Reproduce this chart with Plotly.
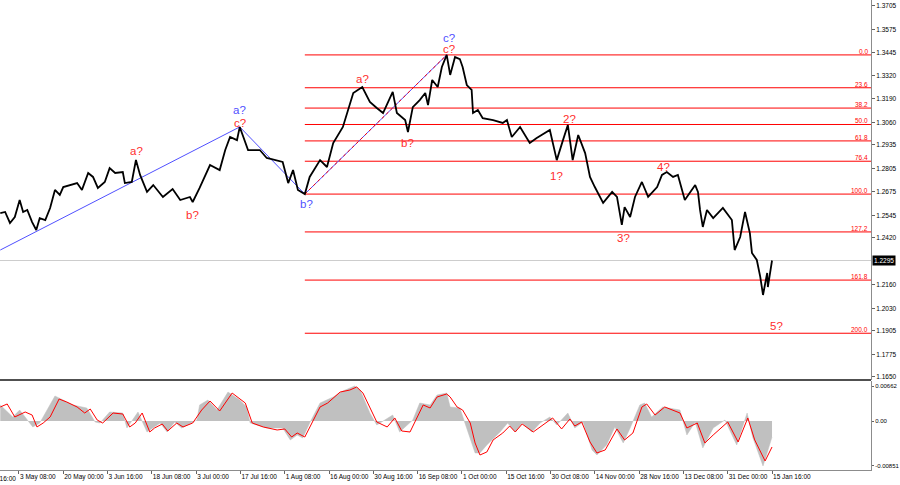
import plotly.graph_objects as go

# ---------------- data ----------------
# bar index (H4 bars, 0 = 3 May 08:00), price
price_bar = [-27, -20, -13, -6, 1, 6, 12, 19, 25, 30, 38, 45, 52, 59, 64, 74, 84, 91, 100, 107, 114,
             124, 131, 139, 150, 153, 163, 169, 175, 185,
             194, 208, 222, 233, 247, 251, 261, 276, 290, 298, 305, 315, 319, 331, 348, 358,
             373, 381, 389, 396, 403, 413, 420, 435, 445, 454, 468, 475, 483, 496, 507, 517, 526, 540,
             546, 558, 562, 569, 579, 587, 591, 597, 605, 611, 618, 623, 630, 637, 641, 647, 654, 656,
             663, 670, 685, 699, 705, 712, 724, 738, 748, 767, 777, 786, 793, 800, 808, 818, 825, 832,
             844, 857, 864, 871, 875, 883, 890, 900, 909, 922, 929, 936, 945, 952, 958, 962, 972, 977,
             981, 984, 988, 994, 1003, 1017, 1030, 1034, 1042, 1049, 1056, 1059, 1066, 1071, 1075,
             1081, 1082, 1088]
price_val = [1.2558, 1.2564, 1.2503, 1.2536, 1.2630, 1.2564, 1.2575, 1.2508, 1.2464, 1.2530, 1.2519,
             1.2586, 1.2686, 1.2658, 1.2702, 1.2713, 1.2724, 1.2686, 1.2780, 1.2758, 1.2697, 1.2730,
             1.2807, 1.2780, 1.2785, 1.2724, 1.2730, 1.2852, 1.2769, 1.2675,
             1.2713, 1.2647, 1.2691, 1.2630, 1.2647, 1.2619, 1.2697, 1.2824, 1.2796, 1.2907, 1.2979,
             1.2962, 1.3035, 1.2907, 1.2907, 1.2863, 1.2851, 1.2841, 1.2724, 1.2796, 1.2686, 1.2663,
             1.2758, 1.2851, 1.2813, 1.2946, 1.3035, 1.3129, 1.3223, 1.3256, 1.3173, 1.3140, 1.3112,
             1.3229, 1.3112, 1.3073, 1.3007, 1.3145, 1.3184, 1.3223, 1.3156, 1.3295, 1.3256, 1.3367,
             1.3434, 1.3323, 1.3422, 1.3411, 1.3367, 1.3267, 1.3240, 1.3112, 1.3129, 1.3084, 1.3073,
             1.3057, 1.3073, 1.2979, 1.3035, 1.2946, 1.2974, 1.3018, 1.2851, 1.2962, 1.3046, 1.2851,
             1.2990, 1.2890, 1.2758, 1.2702, 1.2614, 1.2675, 1.2647, 1.2492, 1.2591, 1.2536, 1.2647,
             1.2730, 1.2647, 1.2702, 1.2769, 1.2785, 1.2758, 1.2769, 1.2686, 1.2630, 1.2686, 1.2713,
             1.2675, 1.2575, 1.2481, 1.2575, 1.2530, 1.2586, 1.2519, 1.2353, 1.2425, 1.2564, 1.2447,
             1.2337, 1.2298, 1.2204, 1.2104, 1.2226, 1.2148, 1.2295]
last_price = 1.2295

# oscillator: histogram (grey) and signal (red)
hist_bar = [-27, -9, 1, 20, 30, 52, 78, 98, 110, 117, 131, 150, 156, 172, 185, 204, 214, 225, 235, 257,
            261, 273, 286, 302, 319, 329, 334, 358, 381, 392, 402, 410, 420, 435, 454, 468, 485, 493,
            507, 517, 540, 550, 569, 579, 594, 604, 618, 623, 637, 647, 659, 666, 676, 695, 706, 717,
            727, 741, 753, 767, 777, 793, 803, 815, 828, 835, 849, 861, 873, 883, 897, 904, 914, 930,
            955, 965, 977, 988, 1003, 1020, 1037, 1052, 1060, 1075, 1088]
hist_val = [0.00303, 0.00076, 0.00208, -0.00113, -0.00038, 0.00473, 0.00303, 0.00246, -0.00019,
            -0.00038, 0.00170, 0.00151, -0.00132, 0.00170, -0.00208, -0.00038, -0.00208, -0.00019,
            -0.00132, 0.00019, 0.00303, 0.00397, 0.00208, 0.00548, 0.00397, 0.00265, -0.00038,
            -0.00132, -0.00132, -0.00359, -0.00265, -0.00321, -0.00038, 0.00340, 0.00454, 0.00567,
            0.00662, 0.00586, 0.00151, -0.00076, 0.00113, -0.00208, 0.00019, 0.00340, 0.00303,
            0.00492, 0.00529, 0.00265, 0.00246, -0.00132, -0.00605, -0.00605, -0.00454, -0.00208,
            -0.00038, -0.00208, -0.00038, -0.00208, -0.00038, 0.00076, -0.00076, 0.00151, -0.00132,
            -0.00019, -0.00548, -0.00643, -0.00454, -0.00113, -0.00416, -0.00132, 0.00303, 0.00340,
            0.00076, 0.00265, 0.00208, -0.00265, -0.00019, -0.00510, -0.00132, 0.00019, -0.00454,
            0.00151, -0.00303, -0.00851, -0.00303]
sig_bar = [-27, -17, -6, 9, 19, 26, 35, 45, 58, 69, 84, 95, 103, 113, 121, 136, 150, 160, 168, 178,
           189, 196, 207, 215, 228, 237, 251, 264, 276, 290, 308, 316, 327, 337, 353, 373, 384, 394,
           402, 413, 425, 435, 446, 464, 478, 488, 497, 517, 532, 543, 553, 565, 584, 594, 604, 618,
           623, 633, 641, 652, 659, 666, 676, 685, 699, 709, 717, 727, 743, 757, 771, 784, 796, 803,
           813, 825, 835, 847, 864, 875, 887, 900, 907, 919, 933, 955, 965, 980, 991, 1003, 1024,
           1039, 1053, 1063, 1078, 1088]
sig_val = [0.00265, 0.00322, 0.00076, 0.00170, 0.00113, -0.00113, -0.00038, 0.00076, 0.00416,
           0.00359, 0.00265, 0.00151, 0.00227, 0.00019, -0.00038, 0.00151, 0.00132, -0.00113,
           -0.00038, 0.00151, -0.00208, -0.00132, -0.00057, -0.00189, -0.00038, -0.00113, -0.00038,
           0.00208, 0.00378, 0.00189, 0.00529, 0.00454, 0.00340, -0.00038, -0.00113, -0.00170,
           -0.00151, -0.00303, -0.00227, -0.00303, 0.00019, 0.00265, 0.00340, 0.00548, 0.00586,
           0.00643, 0.00529, -0.00019, -0.00113, 0.00057, -0.00189, -0.00208, 0.00303, 0.00246,
           0.00454, 0.00511, 0.00454, 0.00265, 0.00208, -0.00038, -0.00416, -0.00643, -0.00586,
           -0.00359, -0.00227, -0.00095, -0.00208, -0.00057, -0.00208, -0.00076, 0.00057, -0.00151,
           0.00038, -0.00095, -0.00019, -0.00397, -0.00605, -0.00548, -0.00151, -0.00359, -0.00227,
           0.00265, 0.00322, 0.00113, 0.00265, 0.00151, -0.00132, -0.00038, -0.00416, -0.00265,
           -0.00019, -0.00397, 0.00057, -0.00359, -0.00756, -0.00492]

# Fibonacci grid anchors (b? low -> c? high)
fib_start_bar = 413
fib_low = 1.2663
fib_high = 1.3434
fib_ratios = [0.0, 23.6, 38.2, 50.0, 61.8, 76.4, 100.0, 127.2, 161.8, 200.0]

# blue wave lines
wave_bar = [-27, 319, 413, 618]
wave_val = [1.2353, 1.3035, 1.2663, 1.3434]

# wave labels: text, bar, price, colour key
labels_text = ["a?", "c?", "a?", "b?", "b?", "a?", "b?", "c?", "c?", "1?", "2?", "3?", "4?", "5?"]
labels_bar = [319, 319, 170, 251, 416, 496, 562, 621, 621, 777, 795, 873, 931, 1095]
labels_val = [1.3128, 1.3057, 1.2901, 1.2547, 1.2608, 1.3300, 1.2946, 1.3526, 1.3464, 1.2763, 1.3079,
              1.2420, 1.2813, 1.1930]
labels_col = ["b", "r", "r", "r", "b", "r", "r", "b", "r", "r", "r", "r", "r", "r"]

# axes
price_ticks = [1.3705, 1.3575, 1.3445, 1.3320, 1.3190, 1.3060, 1.2935, 1.2805, 1.2675, 1.2545,
               1.2420, 1.2160, 1.2030, 1.1905, 1.1775, 1.1650]
osc_ticks = [0.00662, 0.0, -0.00851]
osc_tick_text = ["0.00662", "0.00", "-0.00851"]
time_tick_bars = [-64, 0, 64, 128, 192, 256, 320, 384, 448, 512, 576, 640, 704, 768, 832, 896, 960,
                  1024, 1088]
time_tick_text = ["18 Apr 16:00", "3 May 08:00", "20 May 00:00", "3 Jun 16:00", "18 Jun 08:00",
                  "3 Jul 00:00", "17 Jul 16:00", "1 Aug 08:00", "16 Aug 00:00", "30 Aug 16:00",
                  "16 Sep 08:00", "1 Oct 00:00", "15 Oct 16:00", "30 Oct 08:00", "14 Nov 00:00",
                  "28 Nov 16:00", "13 Dec 08:00", "31 Dec 00:00", "15 Jan 16:00"]

X_RANGE = [-27.4, 1231]
Y_RANGE = [1.1633, 1.37382]
Y2_RANGE = [-0.00927, 0.00757]

RED = "rgb(255,0,0)"
LRED = "rgb(255,45,45)"
BLUE = "rgb(80,80,255)"
FONT = "Liberation Sans, Arial, sans-serif"

fig = go.Figure()

# price line (current price)
fig.add_trace(go.Scatter(x=X_RANGE, y=[last_price, last_price], mode="lines",
                         line=dict(color="rgb(205,205,205)", width=1), hoverinfo="skip"))
# fib lines
for r in fib_ratios:
    lvl = fib_high - r / 100.0 * (fib_high - fib_low)
    fig.add_trace(go.Scatter(x=[fib_start_bar, X_RANGE[1]], y=[lvl, lvl], mode="lines",
                             line=dict(color=RED, width=1), hoverinfo="skip"))
    fig.add_annotation(x=1, xref="paper", y=lvl, yref="y", text=f"{r:.1f}", showarrow=False,
                       xanchor="right", yanchor="bottom", xshift=-1, yshift=-2,
                       font=dict(family=FONT, size=6.5, color=RED))

# wave lines
fig.add_trace(go.Scatter(x=wave_bar, y=wave_val, mode="lines",
                         line=dict(color=BLUE, width=1), hoverinfo="skip"))
fig.add_trace(go.Scatter(x=wave_bar[2:], y=wave_val[2:], mode="lines",
                         line=dict(color=RED, width=1, dash="dot"), hoverinfo="skip"))

# price
fig.add_trace(go.Scatter(x=price_bar, y=price_val, mode="lines",
                         line=dict(color="black", width=1.8), hoverinfo="skip"))

# oscillator
fig.add_trace(go.Scatter(x=hist_bar, y=hist_val, mode="lines", yaxis="y2", fill="tozeroy",
                         fillcolor="rgb(192,192,192)", line=dict(color="rgb(192,192,192)", width=0.5),
                         hoverinfo="skip"))
fig.add_trace(go.Scatter(x=sig_bar, y=sig_val, mode="lines", yaxis="y2",
                         line=dict(color=RED, width=1), hoverinfo="skip"))

for t, b, v, c in zip(labels_text, labels_bar, labels_val, labels_col):
    fig.add_annotation(x=b, y=v, text=t, showarrow=False, borderpad=0,
                       font=dict(family=FONT, size=11.5, color=BLUE if c == "b" else LRED))

# first (partly hidden) time label, left of the visible range
first_paper_x = (time_tick_bars[0] - X_RANGE[0]) / (X_RANGE[1] - X_RANGE[0])
fig.add_annotation(x=first_paper_x, xref="paper", y=0, yref="paper", text=time_tick_text[0],
                   showarrow=False, xanchor="left", yanchor="top", xshift=2, yshift=-3,
                   font=dict(family=FONT, size=6.5, color="black"))

# current price box
fig.add_annotation(x=1, xref="paper", y=last_price, yref="y", text="1.2295", showarrow=False,
                   xanchor="left", yanchor="middle", xshift=1, bgcolor="black",
                   font=dict(family=FONT, size=6.5, color="white"), borderpad=1)

# panel separator
fig.add_shape(type="line", xref="paper", yref="paper", x0=0, x1=1, y0=0.1915, y1=0.1915,
              line=dict(color="rgb(80,80,80)", width=2))

axis_common = dict(showgrid=False, zeroline=False, showline=True, linecolor="rgb(140,140,140)",
                   linewidth=1, ticks="outside", ticklen=3, tickcolor="rgb(100,100,100)",
                   automargin=False, tickangle=0,
                   tickfont=dict(family=FONT, size=6.5, color="black"))
axis_y2 = dict(axis_common)
axis_y2["ticklen"] = 2
axis_y2["tickfont"] = dict(family=FONT, size=6, color="black")

fig.update_layout(
    width=900, height=485, margin=dict(l=0, r=29, t=0, b=15),
    paper_bgcolor="white", plot_bgcolor="white", showlegend=False,
    xaxis=dict(range=X_RANGE, tickmode="array", tickvals=time_tick_bars, ticktext=time_tick_text,
               ticklabelposition="outside right", anchor="y2", **axis_common),
    yaxis=dict(domain=[0.1915, 1], range=Y_RANGE, side="right", tickmode="array",
               tickvals=price_ticks, ticktext=[f"{v:.4f}" for v in price_ticks], anchor="x",
               **axis_common),
    yaxis2=dict(domain=[0, 0.1894], range=Y2_RANGE, side="right", tickmode="array",
                tickvals=osc_ticks, ticktext=osc_tick_text, anchor="x", **axis_y2),
)

fig.write_html("out.html")
